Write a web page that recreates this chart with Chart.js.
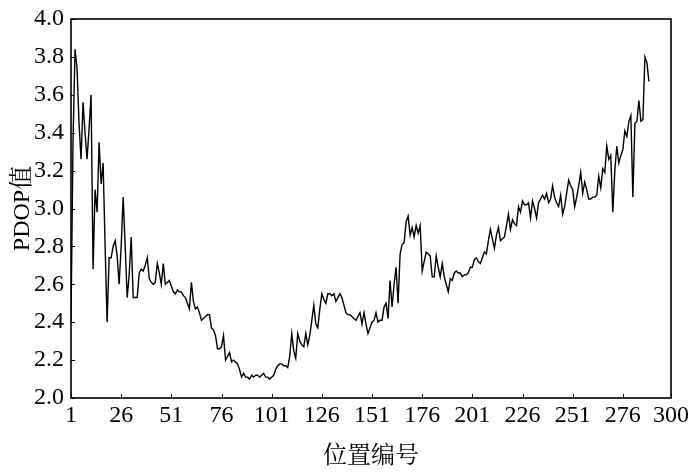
<!DOCTYPE html>
<html>
<head>
<meta charset="utf-8">
<script src="https://cdn.jsdelivr.net/npm/chart.js@4.4.0/dist/chart.umd.min.js"></script>
<style>
  html, body { margin: 0; padding: 0; background: #fff; }
  #wrap { width: 700px; height: 474px; }
</style>
</head>
<body>
<div id="wrap"><canvas id="pdopChart"></canvas></div>
<script>
// tick labels
const X_TICKS = [1, 26, 51, 76, 101, 126, 151, 176, 201, 226, 251, 276, 300];
const Y_TICKS = [2.0, 2.2, 2.4, 2.6, 2.8, 3.0, 3.2, 3.4, 3.6, 3.8, 4.0];

// PDOP value at each position number (1..289)
const PDOP = [
  2.40, 3.35, 3.84, 3.74, 3.45, 3.26, 3.56, 3.40, 3.26, 3.42,
  3.60, 2.68, 3.10, 2.98, 3.35, 3.13, 3.24, 2.80, 2.40, 2.74,
  2.74, 2.80, 2.83, 2.75, 2.60, 2.80, 3.06, 2.80, 2.53, 2.65,
  2.85, 2.53, 2.53, 2.53, 2.66, 2.68, 2.67, 2.70, 2.74, 2.63,
  2.61, 2.60, 2.61, 2.71, 2.66, 2.60, 2.71, 2.60, 2.61, 2.62,
  2.59, 2.56, 2.55, 2.57, 2.56, 2.56, 2.54, 2.53, 2.50, 2.47,
  2.61, 2.51, 2.47, 2.48, 2.45, 2.41, 2.42, 2.43, 2.44, 2.44,
  2.37, 2.36, 2.33, 2.26, 2.26, 2.27, 2.33, 2.20, 2.22, 2.24,
  2.19, 2.20, 2.19, 2.18, 2.15, 2.11, 2.13, 2.11, 2.11, 2.10,
  2.12, 2.11, 2.12, 2.12, 2.11, 2.12, 2.13, 2.11, 2.11, 2.10,
  2.11, 2.12, 2.15, 2.17, 2.18, 2.18, 2.17, 2.17, 2.16, 2.22,
  2.34, 2.25, 2.21, 2.34, 2.30, 2.28, 2.27, 2.34, 2.28, 2.33,
  2.41, 2.49, 2.39, 2.37, 2.47, 2.55, 2.52, 2.50, 2.55, 2.55,
  2.54, 2.55, 2.51, 2.53, 2.55, 2.53, 2.49, 2.45, 2.44, 2.44,
  2.43, 2.42, 2.41, 2.43, 2.45, 2.39, 2.45, 2.39, 2.34, 2.37,
  2.40, 2.41, 2.45, 2.40, 2.41, 2.41, 2.48, 2.50, 2.42, 2.62,
  2.48, 2.60, 2.69, 2.50, 2.76, 2.81, 2.82, 2.93, 2.96, 2.86,
  2.90, 2.85, 2.91, 2.87, 2.91, 2.67, 2.72, 2.77, 2.76, 2.75,
  2.64, 2.64, 2.75, 2.69, 2.64, 2.71, 2.64, 2.60, 2.56, 2.63,
  2.62, 2.66, 2.67, 2.66, 2.66, 2.64, 2.65, 2.65, 2.66, 2.69,
  2.69, 2.73, 2.74, 2.72, 2.71, 2.74, 2.77, 2.76, 2.83, 2.89,
  2.84, 2.79, 2.86, 2.90, 2.83, 2.84, 2.85, 2.91, 2.97, 2.89,
  2.94, 2.92, 2.91, 3.01, 2.98, 3.04, 3.02, 3.02, 3.03, 2.95,
  3.04, 3.00, 2.95, 3.03, 3.05, 3.07, 3.05, 3.08, 3.03, 3.05,
  3.12, 3.06, 3.03, 3.01, 3.07, 2.97, 3.01, 3.08, 3.15, 3.12,
  3.10, 3.01, 3.06, 3.12, 3.19, 3.08, 3.14, 3.10, 3.05, 3.05,
  3.06, 3.06, 3.07, 3.17, 3.11, 3.21, 3.19, 3.33, 3.26, 3.28,
  2.98, 3.20, 3.33, 3.24, 3.28, 3.31, 3.41, 3.38, 3.46, 3.49,
  3.06, 3.45, 3.46, 3.57, 3.46, 3.47, 3.80, 3.77, 3.67
];
const POSITIONS = PDOP.map((_, i) => i + 1);

const FONT = "'Liberation Serif', 'Times New Roman', 'Noto Serif CJK SC', 'Noto Sans CJK SC', serif";

// box frame + short inward ticks, placed through the scales
const framePlugin = {
  id: 'frame',
  afterDatasetsDraw(chart) {
    const { ctx, chartArea: a, scales: { x, y } } = chart;
    ctx.save();
    ctx.strokeStyle = '#000';
    ctx.lineWidth = 1.6;
    ctx.strokeRect(a.left, a.top, a.right - a.left, a.bottom - a.top);
    ctx.beginPath();
    X_TICKS.forEach(v => {
      const px = Math.round(x.getPixelForValue(v)) + 0.5;
      ctx.moveTo(px, a.bottom);
      ctx.lineTo(px, a.bottom - 4);
    });
    Y_TICKS.forEach(v => {
      const py = Math.round(y.getPixelForValue(v)) + 0.5;
      ctx.moveTo(a.left, py);
      ctx.lineTo(a.left + 4, py);
    });
    ctx.lineWidth = 1;
    ctx.stroke();
    ctx.restore();
  }
};

new Chart(document.getElementById('pdopChart'), {
  type: 'line',
  data: {
    datasets: [{
      label: 'PDOP',
      data: POSITIONS.map((p, i) => ({ x: p, y: PDOP[i] })),
      borderColor: '#000',
      borderWidth: 1.4,
      pointRadius: 0,
      fill: false,
      tension: 0
    }]
  },
  options: {
    responsive: true,
    maintainAspectRatio: false,
    animation: false,
    layout: { padding: { top: 17, right: 29, bottom: 0, left: 0 } },
    plugins: {
      legend: { display: false },
      tooltip: { enabled: false }
    },
    scales: {
      x: {
        type: 'linear',
        min: 1, max: 300,
        afterBuildTicks: s => { s.ticks = X_TICKS.map(v => ({ value: v })); },
        afterFit: s => { s.height = 76; },
        grid: { display: false, drawTicks: false },
        border: { display: false },
        ticks: {
          autoSkip: false, maxRotation: 0, padding: 3,
          color: '#000', font: { family: FONT, size: 24 }
        },
        title: {
          display: true, text: '位置编号', color: '#000',
          font: { family: FONT, size: 24 }, padding: { top: 0, bottom: 3 }
        }
      },
      y: {
        min: 2.0, max: 4.0,
        afterBuildTicks: s => { s.ticks = Y_TICKS.map(v => ({ value: v })); },
        afterFit: s => { s.width = 71; },
        grid: { display: false, drawTicks: false },
        border: { display: false },
        ticks: {
          padding: 7, color: '#000', font: { family: FONT, size: 24, lineHeight: 1 },
          callback: v => Number(v).toFixed(1)
        },
        title: {
          display: true, text: 'PDOP值', color: '#000',
          font: { family: FONT, size: 24 }, padding: { top: 8, bottom: 0 }
        }
      }
    }
  },
  plugins: [framePlugin]
});
</script>
</body>
</html>
